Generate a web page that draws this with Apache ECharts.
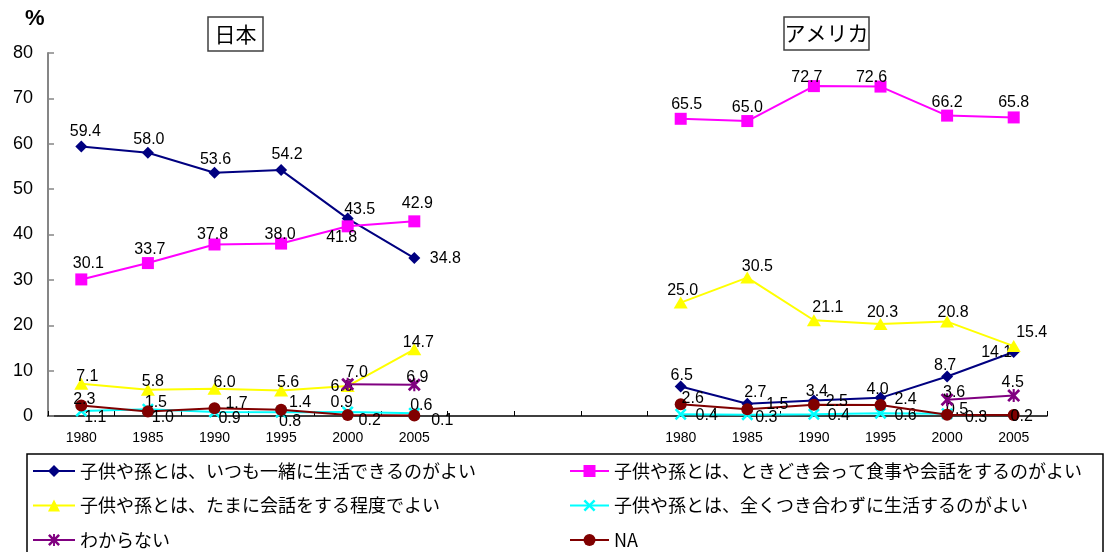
<!DOCTYPE html>
<html><head><meta charset="utf-8">
<script src="https://cdn.jsdelivr.net/npm/echarts@6/dist/echarts.min.js"></script>
<style>html,body{margin:0;padding:0;background:#fff}#c{width:1104px;height:552px}</style>
</head><body><div id="c"></div>
<script>
// ---- data ----
const years = ['1980', '1985', '1990', '1995', '2000', '2005'];
const gapCount = 3;
const panelTitles = ['日本', 'アメリカ'];
const seriesNames = [
  '子供や孫とは、いつも一緒に生活できるのがよい',
  '子供や孫とは、ときどき会って食事や会話をするのがよい',
  '子供や孫とは、たまに会話をする程度でよい',
  '子供や孫とは、全くつき合わずに生活するのがよい',
  'わからない',
  'NA'
];
const japanAlways   = [59.4, 58.0, 53.6, 54.2, 43.5, 34.8];
const japanSometimes= [30.1, 33.7, 37.8, 38.0, 41.8, 42.9];
const japanRarely   = [7.1, 5.8, 6.0, 5.6, 6.6, 14.7];
const japanNever    = [1.1, 1.5, 0.9, 0.8, 0.9, 0.6];
const japanDontKnow = [null, null, null, null, 7.0, 6.9];
const japanNA       = [2.3, 1.0, 1.7, 1.4, 0.2, 0.1];
const usaAlways     = [6.5, 2.7, 3.4, 4.0, 8.7, 14.1];
const usaSometimes  = [65.5, 65.0, 72.7, 72.6, 66.2, 65.8];
const usaRarely     = [25.0, 30.5, 21.1, 20.3, 20.8, 15.4];
const usaNever      = [0.4, 0.3, 0.4, 0.6, 0.5, null];
const usaDontKnow   = [null, null, null, null, 3.6, 4.5];
const usaNA         = [2.6, 1.5, 2.5, 2.4, 0.3, 0.2];
const yTicks = {min: 0, max: 80, interval: 10};

// ---- label placement (offsets of label centre from marker centre) ----
const labelOffsets = [
  [[4,-15],[1,-13],[1,-13],[6,-15],[12,-9],[31,0],   [1,-11],[8,-11],[3,-9],[-3,-8],[-2,-11],[-17,1]],
  [[7,-16],[2,-13],[-2,-10],[-1,-9],[-6,11],[3,-18], [6,-14],[0,-13],[-7,-9],[-9,-9],[0,-13],[0,-15]],
  [[6,-7],[5,-8],[10,-6],[7,-8],[-6,1],[4,-7],       [2,-12],[10,-11],[14,-13],[2,-11],[6,-9],[18,-14]],
  [[14,7],[8,-7],[15,7],[9,9],[-6,-9],[7,-8],        [26,1],[19,3],[25,1],[25,2],[10,-4],[0,0]],
  [[0,0],[0,0],[0,0],[0,0],[9,-12],[3,-7],           [0,0],[0,0],[0,0],[0,0],[7,-7],[-1,-13]],
  [[3,-6],[15,6],[22,-5],[19,-7],[22,6],[28,5],      [12,-6],[30,-5],[23,-3],[25,-6],[29,3],[8,2]]
];
const colors = ['#000080', '#FF00FF', '#FFFF00', '#00FFFF', '#800080', '#800000'];
const X_PATH = 'path://M0,1.5 L1.5,0 L5,3.5 L8.5,0 L10,1.5 L6.5,5 L10,8.5 L8.5,10 L5,6.5 L1.5,10 L0,8.5 L3.5,5 Z';
const STAR_PATH = 'path://M0,1.5 L1.5,0 L5,3.5 L8.5,0 L10,1.5 L6.5,5 L10,8.5 L8.5,10 L5,6.5 L1.5,10 L0,8.5 L3.5,5 Z M4.2,0 L5.8,0 L5.8,10 L4.2,10 Z';
const symbols = ['diamond', 'rect', 'triangle', X_PATH, STAR_PATH, 'circle'];
const symbolSizes = [12, 12, [14, 12], 12, 13, 12];

const japanSets = [japanAlways, japanSometimes, japanRarely, japanNever, japanDontKnow, japanNA];
const usaSets = [usaAlways, usaSometimes, usaRarely, usaNever, usaDontKnow, usaNA];

// x categories: Japan years, gap, USA years
const xKeys = [], xLabels = [];
years.forEach(y => { xKeys.push('JP' + y); xLabels.push(y); });
for (let i = 0; i < gapCount; i++) { xKeys.push('GAP' + i); xLabels.push(''); }
years.forEach(y => { xKeys.push('US' + y); xLabels.push(y); });

function buildData(si) {
  const vals = [...japanSets[si], ...Array(gapCount).fill(null), ...usaSets[si]];
  const offs = [...labelOffsets[si].slice(0, 6), ...Array(gapCount).fill(null), ...labelOffsets[si].slice(6)];
  return vals.map((v, i) => v == null ? '-' : {value: v, label: {offset: offs[i]}});
}

const series = seriesNames.map((name, si) => ({
  name, type: 'line', data: buildData(si),
  symbol: symbols[si], symbolSize: symbolSizes[si],
  showAllSymbol: true, connectNulls: false,
  lineStyle: {color: colors[si], width: 2},
  itemStyle: {color: colors[si]},
  label: {show: true, position: 'inside', color: '#000', fontSize: 16,
          fontFamily: 'Liberation Sans, Arial, sans-serif',
          formatter: p => Number(p.value).toFixed(1)},
  emphasis: {disabled: true},
  z: 2 + si
}));

const chart = echarts.init(document.getElementById('c'), null, {renderer: 'canvas'});
const legendText = {fontSize: 18, color: '#000', fontFamily: 'Noto Sans CJK JP', lineHeight: 18};
chart.setOption({
  animation: false,
  backgroundColor: '#fff',
  grid: {left: 48, right: 57, top: 53, bottom: 136, containLabel: false},
  xAxis: {
    type: 'category', data: xKeys, boundaryGap: true,
    axisLine: {lineStyle: {color: '#000', width: 1.5}},
    axisTick: {show: true, inside: true, length: 5, interval: 0, alignWithLabel: false, lineStyle: {color: '#000'}},
    axisLabel: {interval: 0, margin: 15, fontSize: 14, color: '#000', fontFamily: 'Liberation Sans, Arial, sans-serif',
                formatter: (v, i) => xLabels[i]},
    splitLine: {show: false}
  },
  yAxis: {
    type: 'value', min: yTicks.min, max: yTicks.max, interval: yTicks.interval,
    axisLine: {show: true, lineStyle: {color: '#868686', width: 2}},
    axisTick: {show: true, inside: true, length: 6, lineStyle: {color: '#868686', width: 1.5}},
    axisLabel: {margin: 15, fontSize: 18, color: '#000', fontFamily: 'Liberation Sans, Arial, sans-serif'},
    splitLine: {show: false}
  },
  legend: [
    {left: 32, top: 462, orient: 'vertical', padding: 0, itemGap: 16.5, itemWidth: 42, itemHeight: 15,
     data: [seriesNames[0], seriesNames[2], seriesNames[4]], textStyle: legendText, selectedMode: false},
    {left: 569, top: 462, orient: 'vertical', padding: 0, itemGap: 16.5, itemWidth: 39, itemHeight: 15,
     data: [seriesNames[1], seriesNames[3], seriesNames[5]], textStyle: legendText, selectedMode: false}
  ],
  graphic: [
    {type: 'rect', shape: {x: 27, y: 454, width: 1076, height: 110}, style: {fill: 'none', stroke: '#000', lineWidth: 1.5}, z: -1},
    {type: 'text', left: 25, top: 8, style: {text: '%', fontSize: 22, fontWeight: 'bold', fill: '#000', fontFamily: 'Liberation Sans, Arial, sans-serif'}},
    {type: 'rect', shape: {x: 208, y: 17, width: 55, height: 34}, style: {fill: '#fff', stroke: '#404040', lineWidth: 1.5}},
    {type: 'text', x: 235.5, y: 34, style: {text: panelTitles[0], fontSize: 21, fill: '#000', align: 'center', verticalAlign: 'middle', fontFamily: 'Noto Sans CJK JP'}},
    {type: 'rect', shape: {x: 784, y: 17, width: 85, height: 33}, style: {fill: '#fff', stroke: '#404040', lineWidth: 1.5}},
    {type: 'text', x: 826.5, y: 33.5, style: {text: panelTitles[1], fontSize: 21, fill: '#000', align: 'center', verticalAlign: 'middle', fontFamily: 'Noto Sans CJK JP'}}
  ],
  series
});
</script></body></html>
